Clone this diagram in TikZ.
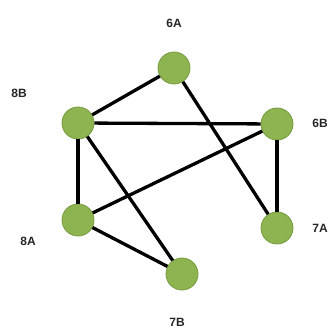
\documentclass[tikz,border=0pt]{standalone}
\usepackage{fontspec}
\setmainfont{Liberation Sans}
\begin{document}
\begin{tikzpicture}[x=1pt,y=-1pt,
  vert/.style={circle,fill={rgb,255:red,141;green,180;blue,80},draw={rgb,255:red,118;green,155;blue,62},line width=0.8pt,minimum size=32pt,inner sep=0pt},
  lab/.style={font=\bfseries\fontsize{12}{14}\selectfont,text=black!85,inner sep=0pt},
  edge/.style={line width=3.3pt,black}]
\useasboundingbox (0,0) rectangle (330,329);
\node[vert] (6A) at (174,68) {};
\node[vert] (8B) at (78,123) {};
\node[vert] (6B) at (277,124) {};
\node[vert] (8A) at (78,220) {};
\node[vert] (7A) at (277,228) {};
\node[vert] (7B) at (182,274) {};
\node[lab] (l6A) at (174,23) {6A};
\node[lab] (l8B) at (19,93) {8B};
\node[lab] (l6B) at (320,123) {6B};
\node[lab] (l8A) at (28,241) {8A};
\node[lab] (l7A) at (320,228) {7A};
\node[lab] (l7B) at (177,322) {7B};
\draw[edge] (6A) -- (8B);
\draw[edge] (6A) -- (7A);
\draw[edge] (8B) -- (6B);
\draw[edge] (8B) -- (8A);
\draw[edge] (8B) -- (7B);
\draw[edge] (6B) -- (8A);
\draw[edge] (6B) -- (7A);
\draw[edge] (8A) -- (7B);
\end{tikzpicture}
\end{document}
